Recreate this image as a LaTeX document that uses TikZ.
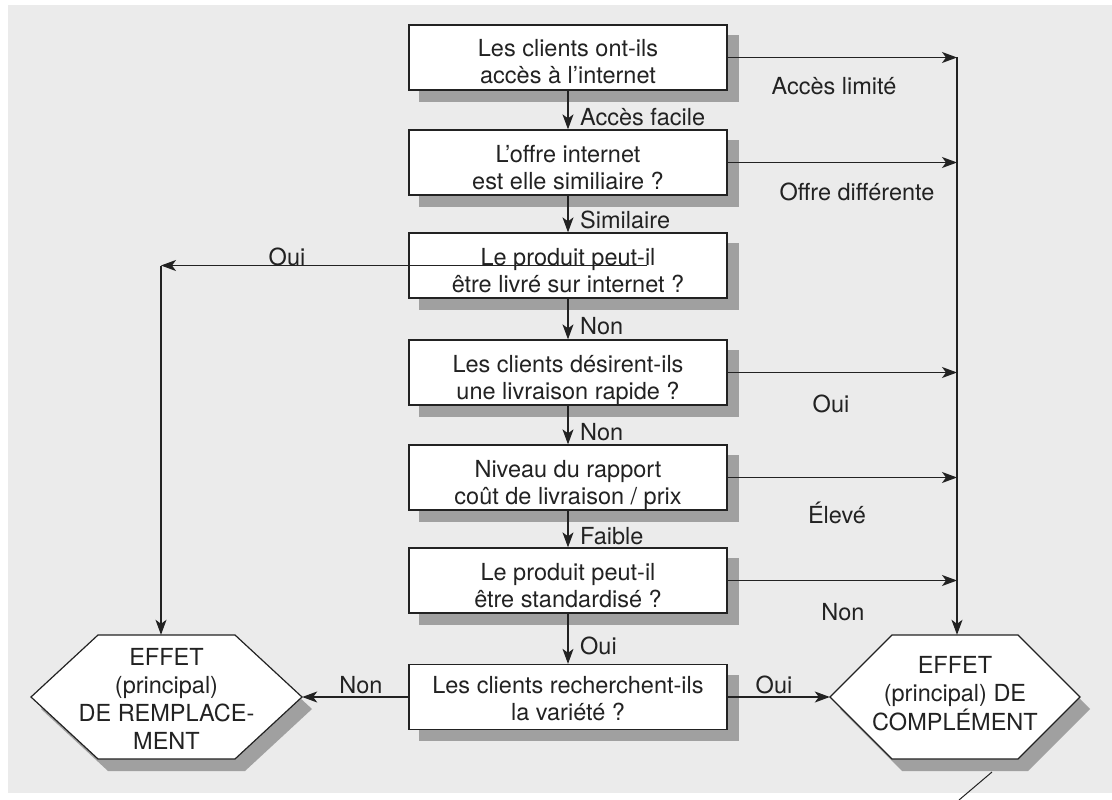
\documentclass[tikz,border=0pt]{standalone}
\usepackage{fontspec}
\setmainfont{TeX Gyre Heros}
\usetikzlibrary{arrows.meta,calc}
\definecolor{bggray}{HTML}{EBEBEB}
\definecolor{shgray}{HTML}{A0A0A0}
\definecolor{ink}{HTML}{222222}
\pgfdeclarelayer{back}
\pgfdeclarelayer{shade}
\pgfsetlayers{back,shade,main}
\newcommand\mlines[1]{\begin{tabular}[t]{@{}c@{}}#1\end{tabular}}
\newcommand\hexat[4]{(#1-#3,#2) -- (#1-#3+#4,#2-62) -- (#1+#3-#4,#2-62) -- (#1+#3,#2) -- (#1+#3-#4,#2+62) -- (#1-#3+#4,#2+62) -- cycle}
\begin{document}
\begin{tikzpicture}[x=1pt,y=-1pt,
  qbox/.style={draw=ink,line width=1.3pt,fill=white,minimum width=318pt,minimum height=65pt,inner sep=0pt},
  hexnode/.style={inner sep=0pt},
  qtext/.style={font=\fontsize{23.5}{27}\selectfont,text=ink,inner sep=0pt,anchor=base},
  htext/.style={font=\fontsize{23.5}{28}\selectfont,text=ink,inner sep=0pt,anchor=base},
  lbl/.style={font=\fontsize{23.5}{27}\selectfont,text=ink,inner sep=0pt,anchor=base},
  lblw/.style={lbl,anchor=base west},
  arr/.style={draw=ink,line width=1.1pt,-{Stealth[length=15pt,width=11pt,inset=4pt]}},
  ln/.style={draw=ink,line width=1.1pt}]
\useasboundingbox (0,0) rectangle (1112,800);
\begin{pgfonlayer}{back}
  \fill[bggray] (8,5) rectangle (1112,793);
\end{pgfonlayer}

% question boxes
\node[qbox] (b1) at (568,57.5) {};
\node[qbox] (b2) at (568,162.5) {};
\node[qbox] (b3) at (568,265.5) {};
\node[qbox] (b4) at (568,372.5) {};
\node[qbox] (b5) at (568,477.5) {};
\node[qbox] (b6) at (568,580.5) {};
\node[qbox] (b7) at (568,697) {};
\begin{pgfonlayer}{shade}
  \foreach \n in {b1,b2,b3,b4,b5,b6,b7}
    \fill[shgray] ([shift={(11,11)}]\n.north west) rectangle ([shift={(11,11)}]\n.south east);
\end{pgfonlayer}
\node[qtext] (t1) at (568,57) {\mlines{Les clients ont-ils\\accès à l’internet}};
\node[qtext] (t2) at (568,162) {\mlines{L’offre internet\\est elle similiaire ?}};
\node[qtext] (t3) at (568,265) {\mlines{Le produit peut-il\\être livré sur internet ?}};
\node[qtext] (t4) at (568,372) {\mlines{Les clients désirent-ils\\une livraison rapide ?}};
\node[qtext] (t5) at (568,477) {\mlines{Niveau du rapport\\coût de livraison / prix}};
\node[qtext] (t6) at (568,580) {\mlines{Le produit peut-il\\être standardisé ?}};
\node[qtext] (t7) at (568,693) {\mlines{Les clients recherchent-ils\\la variété ?}};

% hexagons
\begin{pgfonlayer}{shade}
  \fill[shgray] \hexat{176.5}{709}{135.5}{67};
  \fill[shgray] \hexat{965}{709}{125}{62};
\end{pgfonlayer}
\draw[ink,line width=1.2pt,fill=white] \hexat{166.5}{697}{135.5}{67};
\draw[ink,line width=1.2pt,fill=white] \hexat{955}{697}{125}{62};
\node[hexnode,minimum width=271pt,minimum height=124pt] (effL) at (166.5,697) {};
\node[hexnode,minimum width=250pt,minimum height=124pt] (effR) at (955,697) {};
\node[htext] (hl) at (166.5,665) {\mlines{EFFET\\(principal)\\DE REMPLACE-\\MENT}};
\node[htext] (hr) at (955,673) {\mlines{EFFET\\(principal) DE\\COMPLÉMENT}};

% coordinates
\coordinate (cR) at (957,57.5);
\coordinate (cL) at (161,265.5);
\coordinate (o3) at (647,265.5);
\coordinate (dA) at (992,772);
\coordinate (dB) at (959,800);

% vertical flow
\draw[arr] (b1.south) -- (b2.north);
\draw[arr] (b2.south) -- (b3.north);
\draw[arr] (b3.south) -- (b4.north);
\draw[arr] (b4.south) -- (b5.north);
\draw[arr] (b5.south) -- (b6.north);
\draw[arr] (b6.south) -- (b7.north);

% right side
\foreach \n in {b1,b2,b4,b5,b6}
  \draw[arr] (\n.east) -- (\n.east -| cR);
\draw[arr] (cR) -- (cR |- effR.north);
\draw[arr] (b7.east) -- (effR.west);

% left side
\draw[arr] (o3) -- (cL);
\draw[arr] (cL) -- (cL |- effL.north);
\draw[arr] (b7.west) -- (effL.east);

\draw[ink,line width=1pt] (dA) -- (dB);

% labels
\node[lblw] (l1) at (580,125) {Accès facile};
\node[lblw] (l2) at (580,228) {Similaire};
\node[lblw] (l3) at (580,334) {Non};
\node[lblw] (l4) at (580,440) {Non};
\node[lblw] (l5) at (580,544) {Faible};
\node[lblw] (l6) at (580,654) {Oui};
\node[lbl] (r1) at (834,95) {Accès limité};
\node[lbl] (r2) at (857,200) {Offre différente};
\node[lbl] (r3) at (831,412) {Oui};
\node[lbl] (r4) at (837,523) {Élevé};
\node[lbl] (r5) at (843,620) {Non};
\node[lbl] (lo) at (287,265) {Oui};
\node[lbl] (ln) at (361,693) {Non};
\node[lbl] (ro) at (774,693) {Oui};
\end{tikzpicture}
\end{document}
